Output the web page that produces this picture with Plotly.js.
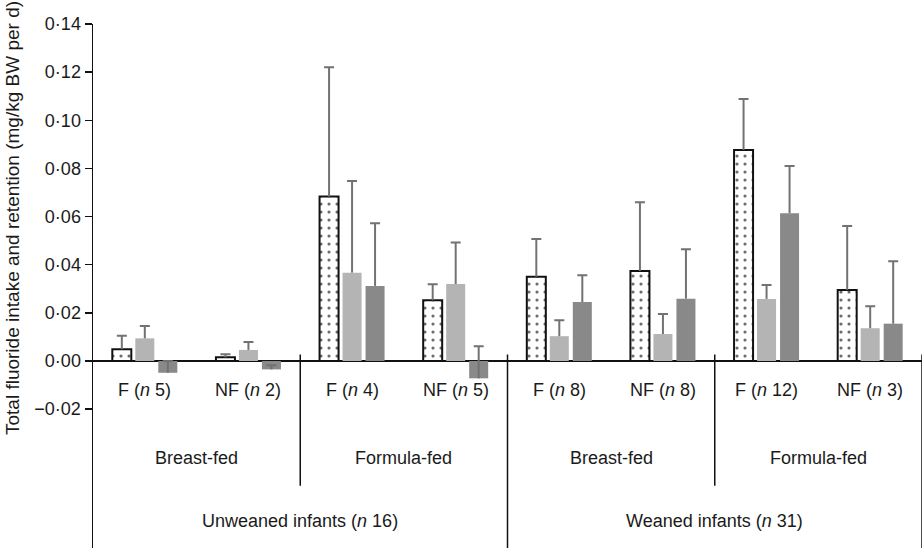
<!DOCTYPE html>
<html>
<head>
<meta charset="utf-8">
<script src="https://cdn.plot.ly/plotly-3.0.1.min.js"></script>
<style>html,body{margin:0;padding:0;background:#fff;}#chart{width:923px;height:548px;}</style>
</head>
<body>
<div id="chart"></div>
<script>
// ---- data ----
const categories = ['F (n 5)', 'NF (n 2)', 'F (n 4)', 'NF (n 5)', 'F (n 8)', 'NF (n 8)', 'F (n 12)', 'NF (n 3)'];
const categoryLabels = ['F (<i>n</i> 5)', 'NF (<i>n</i> 2)', 'F (<i>n</i> 4)', 'NF (<i>n</i> 5)',
                        'F (<i>n</i> 8)', 'NF (<i>n</i> 8)', 'F (<i>n</i> 12)', 'NF (<i>n</i> 3)'];
const feedingLabels = ['Breast-fed', 'Formula-fed', 'Breast-fed', 'Formula-fed'];
const weaningLabels = ['Unweaned infants (<i>n</i> 16)', 'Weaned infants (<i>n</i> 31)'];

const dottedValues = [0.0049, 0.0015, 0.0683, 0.0252, 0.0350, 0.0374, 0.0877, 0.0295];
const dottedErrors = [0.0056, 0.0013, 0.0537, 0.0067, 0.0157, 0.0285, 0.0211, 0.0266];
const lightValues  = [0.0094, 0.0046, 0.0367, 0.0320, 0.0103, 0.0112, 0.0258, 0.0136];
const lightErrors  = [0.0051, 0.0033, 0.0381, 0.0172, 0.0066, 0.0083, 0.0058, 0.0091];
const darkValues   = [-0.0049, -0.0035, 0.0312, -0.0072, 0.0245, 0.0259, 0.0614, 0.0155];
const darkErrors   = [0.0049, 0.0017, 0.0260, 0.0133, 0.0111, 0.0205, 0.0196, 0.0259];

const yTickVals = [-0.02, 0, 0.02, 0.04, 0.06, 0.08, 0.10, 0.12, 0.14];
const yTickText = ['\u22120\u00b702', '0\u00b700', '0\u00b702', '0\u00b704', '0\u00b706', '0\u00b708', '0\u00b710', '0\u00b712', '0\u00b714'];
const yTitle = 'Total fluoride intake and retention (mg/kg BW per d)';

// ---- styling ----
const FONT = 'Liberation Sans, Arial, Helvetica, sans-serif';
const TXT = '#1a1a1a';
const ERR = '#727272';
const catPx = 829 / 8;             // pixel width of one category
const barW = 19 / catPx;           // bar width in category units
const slot = 23 / catPx;           // distance between bar centres
const stemW = 2 / catPx;
const centres = [-slot, 0, slot];

const series = [
  {vals: dottedValues, errs: dottedErrors,
   marker: {color: '#ffffff', line: {color: '#111', width: 2},
            pattern: {shape: '.', fgcolor: '#6a6a6a', bgcolor: '#ffffff', size: 8, solidity: 0.12}}},
  {vals: lightValues, errs: lightErrors, marker: {color: '#b4b4b4', line: {width: 0}}},
  {vals: darkValues, errs: darkErrors, marker: {color: '#898989', line: {width: 0}}}
];

const traces = [];
series.forEach((s, k) => {
  traces.push({type: 'bar', x: categories, y: s.vals, width: barW, offset: centres[k] - barW / 2,
               marker: s.marker});
});
// upward error bars: a thin stem from the bar end plus a cap at the top
series.forEach((s, k) => {
  traces.push({type: 'bar', x: categories, base: s.vals, y: s.errs, width: stemW,
               offset: centres[k] - stemW / 2, marker: {color: ERR, line: {width: 0}},
               error_y: {type: 'data', array: s.errs.map(() => 0), color: ERR, thickness: 2, width: 5}});
});

const yBottom = -0.0777;
const shapes = [];
const sepX = [1.5, 3.5, 5.5, 7.5];
sepX.forEach((x, i) => {
  shapes.push({type: 'line', xref: 'x', yref: 'y', x0: x, x1: x, y0: 0.0027,
               y1: (i % 2 === 0) ? -0.0518 : yBottom, line: {color: '#111', width: 1.5}});
});

const annotations = [];
const lab = (x, y, t, size) => ({xref: 'x', yref: 'y', x: x, y: y, text: t, showarrow: false,
  xanchor: 'center', yanchor: 'middle', font: {family: FONT, size: size, color: TXT}});
categoryLabels.forEach((t, i) => annotations.push(lab(i, -0.0122, t, 18)));
feedingLabels.forEach((t, i) => annotations.push(lab(0.5 + 2 * i, -0.0402, t, 18)));
weaningLabels.forEach((t, i) => annotations.push(lab(1.5 + 4 * i, -0.0664, t, 18)));
annotations.push({xref: 'paper', yref: 'paper', x: (12 - 93) / 829, y: (548 - 218) / 524, text: yTitle,
  textangle: -90, showarrow: false, xanchor: 'center', yanchor: 'middle',
  font: {family: FONT, size: 19, color: TXT}});

const layout = {
  width: 923, height: 548,
  margin: {l: 93, r: 1, t: 24, b: 0, pad: 0},
  paper_bgcolor: '#ffffff', plot_bgcolor: '#ffffff',
  showlegend: false,
  barmode: 'overlay',
  font: {family: FONT, size: 18, color: TXT},
  xaxis: {type: 'category', range: [-0.5, 7.5], showticklabels: false, showgrid: false,
          zeroline: false, showline: false, ticks: ''},
  yaxis: {range: [yBottom, 0.14], tickvals: yTickVals, ticktext: yTickText, ticks: 'outside',
          ticklen: 7, tickwidth: 1.5, tickcolor: '#111', showline: true, linecolor: '#111', linewidth: 1.5,
          showgrid: false, zeroline: true, zerolinecolor: '#111', zerolinewidth: 1.5,
          tickfont: {family: FONT, size: 18, color: TXT}, fixedrange: true},
  shapes: shapes,
  annotations: annotations
};

Plotly.newPlot('chart', traces, layout, {staticPlot: true, displayModeBar: false});
</script>
</body>
</html>
